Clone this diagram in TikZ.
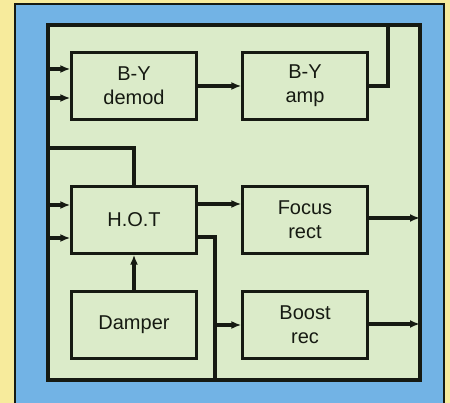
\documentclass[tikz,border=0pt]{standalone}
\usepackage{fontspec}
\setmainfont{Liberation Sans}
\usetikzlibrary{positioning, arrows.meta, calc}

\definecolor{pageyellow}{HTML}{F7EB9C}
\definecolor{panelblue}{HTML}{72B3E5}
\definecolor{boardgreen}{HTML}{DBEBC9}
\definecolor{ink}{HTML}{161A12}

\begin{document}
\begin{tikzpicture}[x=1pt, y=-1pt,
          block/.style={draw=ink, line width=2.3pt, fill=boardgreen, text=ink,
            minimum width=125pt, minimum height=67pt, inner sep=0pt, align=center,
            font=\fontsize{20}{24}\selectfont},
          wire/.style={draw=ink, line width=3.2pt},
          feed/.style={wire, -{Latex[length=10pt, width=8pt]}}]
          \useasboundingbox (0,0) rectangle (450,403);
          \fill[pageyellow] (0,0) rectangle (450,403);
          \draw[fill=panelblue, draw=ink, line width=1.2pt] (15,4) rectangle (444,412);
          \draw[wire, fill=boardgreen] (48,25) rectangle (420,380);

          \node[block] (demod) at (134,86) {B-Y\\demod};
          \node[block] (amp) at (305,86) {B-Y\\amp};
          \node[block] (hot) at (134,220) {H.O.T};
          \node[block] (focus) at (305,220) {Focus\\rect};
          \node[block] (damper) at (134,325) {Damper};
          \node[block] (boost) at (305,325) {Boost\\rec};

          % taps on the left bus
          \coordinate (inA) at (48,69);
          \coordinate (inB) at (48,98);
          \coordinate (inC) at (48,205);
          \coordinate (inD) at (48,238);
          \coordinate (hottap) at (48,148);
          % turn points
          \coordinate (ampturn) at (388,25);
          \coordinate (busdrop) at (215,380);
          \coordinate (boosttap) at (215,325);
          \coordinate (outA) at (420,218);
          \coordinate (outB) at (420,324);

          \draw[feed] (inA) -- (inA -| demod.west);
          \draw[feed] (inB) -- (inB -| demod.west);
          \draw[feed] (inC) -- (inC -| hot.west);
          \draw[feed] (inD) -- (inD -| hot.west);
          \draw[feed] (demod.east) -- (amp.west);
          \draw[wire] (amp.east) -| (ampturn);
          \draw[wire] (hottap) -| (hot.north);
          \draw[feed] (damper.north) -- (hot.south);
          \draw[feed] ([yshift=16pt]hot.east) -- ([yshift=16pt]hot.east -| focus.west);
          \draw[wire] ([yshift=-17pt]hot.east) -| (busdrop);
          \draw[feed] (boosttap) -- (boost.west);
          \draw[feed] (focus.east |- outA) -- (outA);
          \draw[feed] (boost.east |- outB) -- (outB);
        \end{tikzpicture}
\end{document}
